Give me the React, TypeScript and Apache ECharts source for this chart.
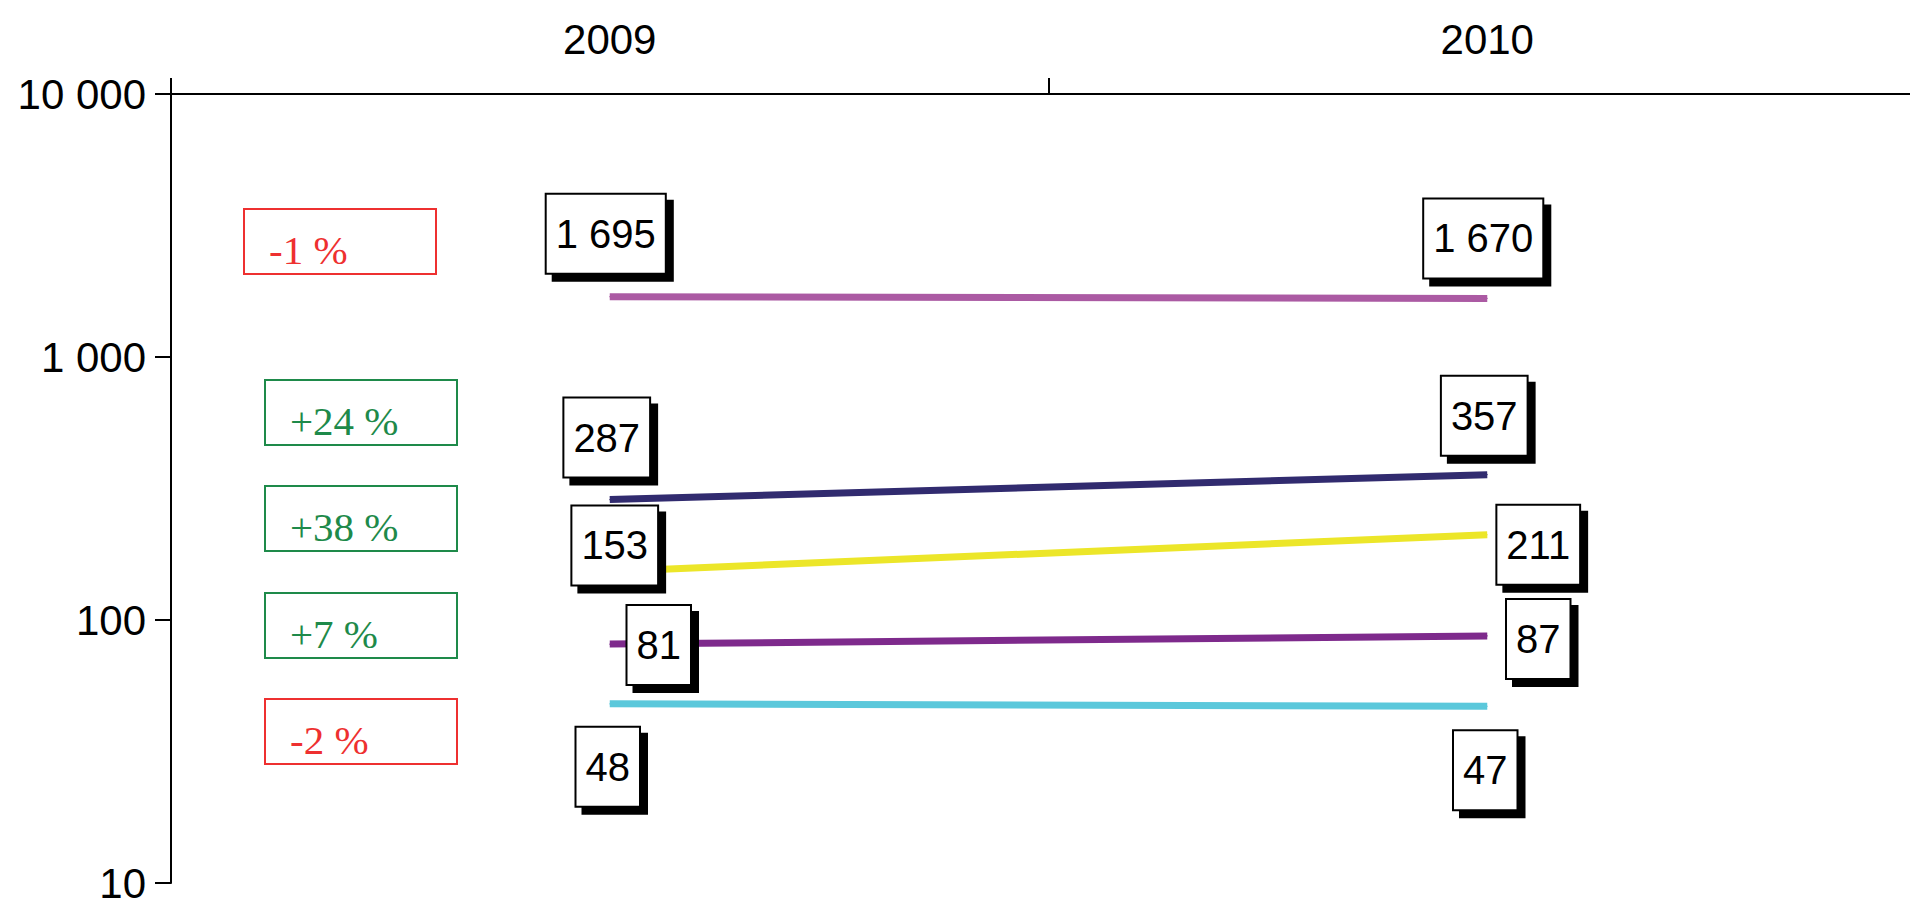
import React, { useEffect, useRef } from "react";
import * as echarts from "echarts";

const years = ["2009", "2010"];
const seriesNames = ["Série 1", "Série 2", "Série 3", "Série 4", "Série 5"];
const values2009 = [1695, 287, 153, 81, 48];
const values2010 = [1670, 357, 211, 87, 47];
const seriesColors = ["#ab5aa3", "#312b6f", "#ece629", "#7e2a8c", "#5bc8db"];
const yTicks = [10, 100, 1000, 10000];

// label offsets (px) relative to each point: [2009, 2010]
const labelOffsets: number[][][] = [
  [[-4, -63], [-4, -60]],
  [[-3, -62], [-3, -59]],
  [[5, -26], [51, 10]],
  [[49, 1], [51, 3]],
  [[-2, 63], [-2, 64]],
];

// change-annotation boxes: [left, top]
const boxPositions = [
  [244, 209],
  [265, 380],
  [265, 486],
  [265, 593],
  [265, 699],
];
const BOX_W = 192;
const BOX_H = 65;

const fmt = (n: number) =>
  String(n).replace(/\B(?=(\d{3})+(?!\d))/g, " ");

export default function App() {
  const ref = useRef<HTMLDivElement>(null);
  useEffect(() => {
    if (!ref.current) return;
    const chart = echarts.init(ref.current, null, { renderer: "svg" });

    const series = seriesNames.map((name, i) => ({
      name,
      type: "line",
      showSymbol: true,
      symbol: "circle",
      symbolSize: 1,
      lineStyle: { color: seriesColors[i], width: 7 },
      itemStyle: { color: seriesColors[i] },
      data: [values2009[i], values2010[i]].map((v, j) => ({
        value: v,
        label: {
          show: true,
          position: "inside",
          offset: labelOffsets[i][j],
          formatter: () => fmt(v),
          fontFamily: "Liberation Sans",
          fontSize: 40,
          color: "#000",
          backgroundColor: "#fff",
          borderColor: "#000",
          borderWidth: 2,
          padding: [17, 9],
          lineHeight: 44,
          shadowColor: "#000",
          shadowBlur: 0,
          shadowOffsetX: 7,
          shadowOffsetY: 7,
        },
      })),
      z: 2,
    }));

    const graphics: any[] = [];
    seriesNames.forEach((_, i) => {
      const ch = Math.round((values2010[i] / values2009[i] - 1) * 100);
      const txt = (ch > 0 ? "+" : ch < 0 ? "-" : "") + Math.abs(ch) + " %";
      const col = ch < 0 ? "#ee3030" : "#1e8a4a";
      const [bx, by] = boxPositions[i];
      graphics.push({
        type: "rect",
        shape: { x: bx, y: by, width: BOX_W, height: BOX_H },
        style: { fill: "#fff", stroke: col, lineWidth: 2 },
      });
      graphics.push({
        type: "text",
        x: bx + 25,
        y: by + BOX_H / 2 + 8,
        style: {
          text: txt,
          fill: col,
          font: '41px "Liberation Serif"',
          verticalAlign: "middle",
          align: "left",
        },
      });
    });

    chart.setOption({
      animation: false,
      backgroundColor: "#fff",
      grid: { left: 171, right: 0, top: 94, bottom: 23, containLabel: false },
      xAxis: {
        type: "category",
        position: "top",
        data: years,
        boundaryGap: true,
        axisLine: { show: true, lineStyle: { color: "#000", width: 2 } },
        axisTick: { show: true, length: 16, lineStyle: { color: "#000", width: 2 } },
        axisLabel: {
          color: "#000",
          fontFamily: "Liberation Sans",
          fontSize: 42,
          margin: 34,
        },
        splitLine: { show: false },
      },
      yAxis: {
        type: "log",
        logBase: 10,
        min: yTicks[0],
        max: yTicks[yTicks.length - 1],
        axisLine: { show: true, onZero: false, lineStyle: { color: "#000", width: 2 } },
        axisTick: { show: true, length: 16, lineStyle: { color: "#000", width: 2 } },
        axisLabel: {
          color: "#000",
          fontFamily: "Liberation Sans",
          fontSize: 42,
          margin: 25,
          formatter: (v: number) => fmt(Math.round(v)),
        },
        splitLine: { show: false },
      },
      series,
      graphic: graphics,
    });
    return () => chart.dispose();
  }, []);
  return (
    <div
      style={{
        position: "absolute",
        left: 0,
        top: 0,
        width: 1910,
        height: 906,
        overflow: "hidden",
      }}
    >
      <div ref={ref} style={{ width: 1926, height: 906 }} />
    </div>
  );
}
